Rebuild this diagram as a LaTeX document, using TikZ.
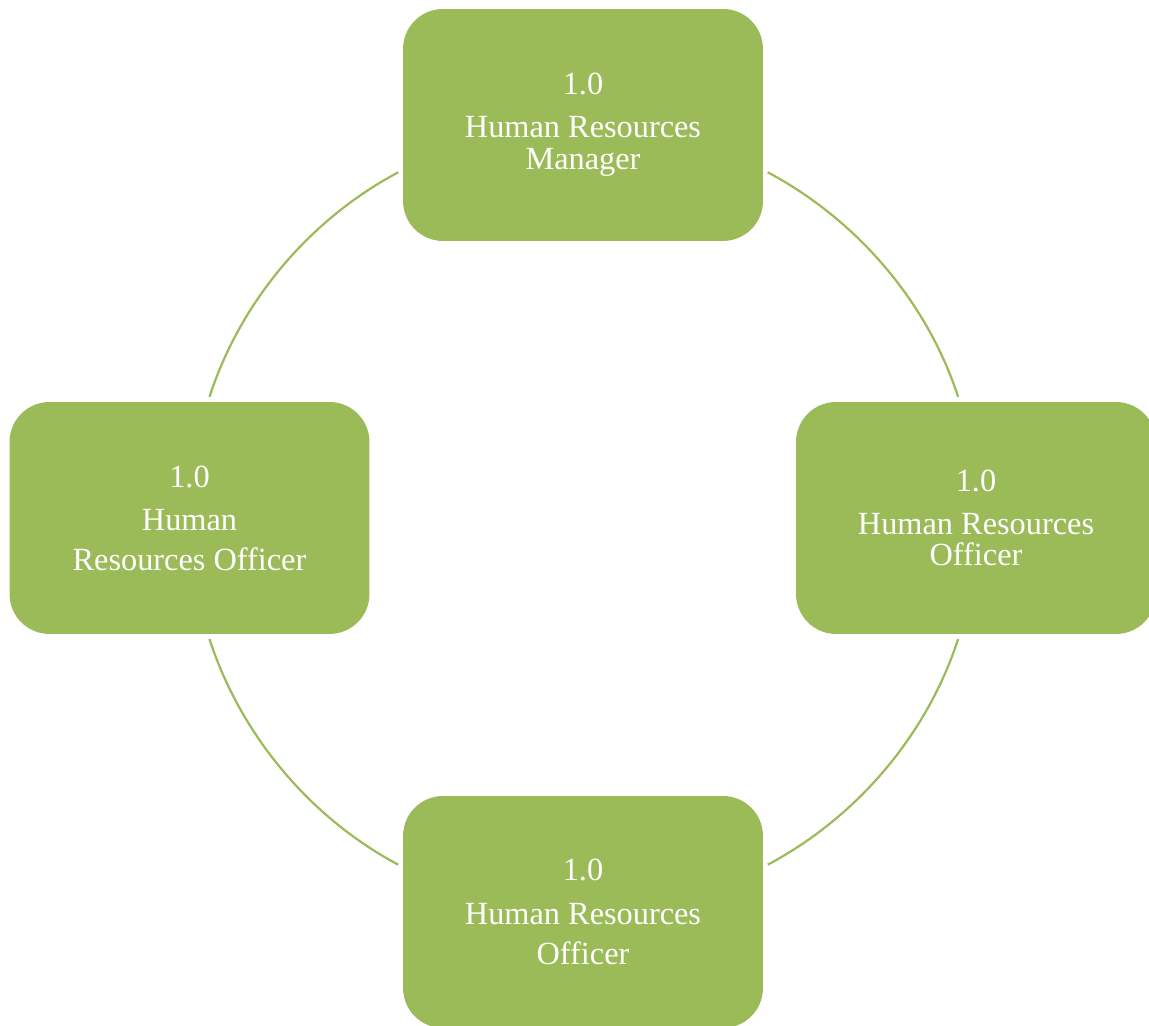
\documentclass[tikz,border=0pt]{standalone}
\usepackage{fontspec}
\setmainfont{Liberation Serif}
\usepackage{tikz}
\definecolor{olive}{HTML}{9BBB59}
\tikzset{
  role/.style={draw=none, fill=olive, rounded corners=0.8cm, minimum width=7.2cm,
    minimum height=4.64cm, align=center, text=white,
    font=\fontsize{18.4}{18}\selectfont},
  link/.style={draw=olive, line width=1.25pt, looseness=0.89,
    shorten <=0.1cm, shorten >=0.1cm}
}

\begin{document}
\begin{tikzpicture}[x=0.02cm, y=0.02cm]
\useasboundingbox (0,0) rectangle (1149,1026);
% the four roles round the ring
\node[role] (mgr) at (583,901) {1.0\\[6.5pt] Human Resources\\ Manager};
\node[role] (left) at (189.5,508) {1.0\\[6.5pt] Human\\[4.8pt] Resources Officer};
\node[role] (right) at (976,508) {1.0\\[6.5pt] Human Resources\\ Officer};
\node[role] (bottom) at (583,114) {1.0\\[7pt] Human Resources\\[4.8pt] Officer};
% ring pieces between them
\draw[link] (mgr.-14) to[out=-28, in=108] (right.98);
\draw[link] (right.262) to[out=-108, in=28] (bottom.14);
\draw[link] (bottom.166) to[out=152, in=-72] (left.279);
\draw[link] (left.81) to[out=72, in=208] (mgr.194);
\end{tikzpicture}
\end{document}
